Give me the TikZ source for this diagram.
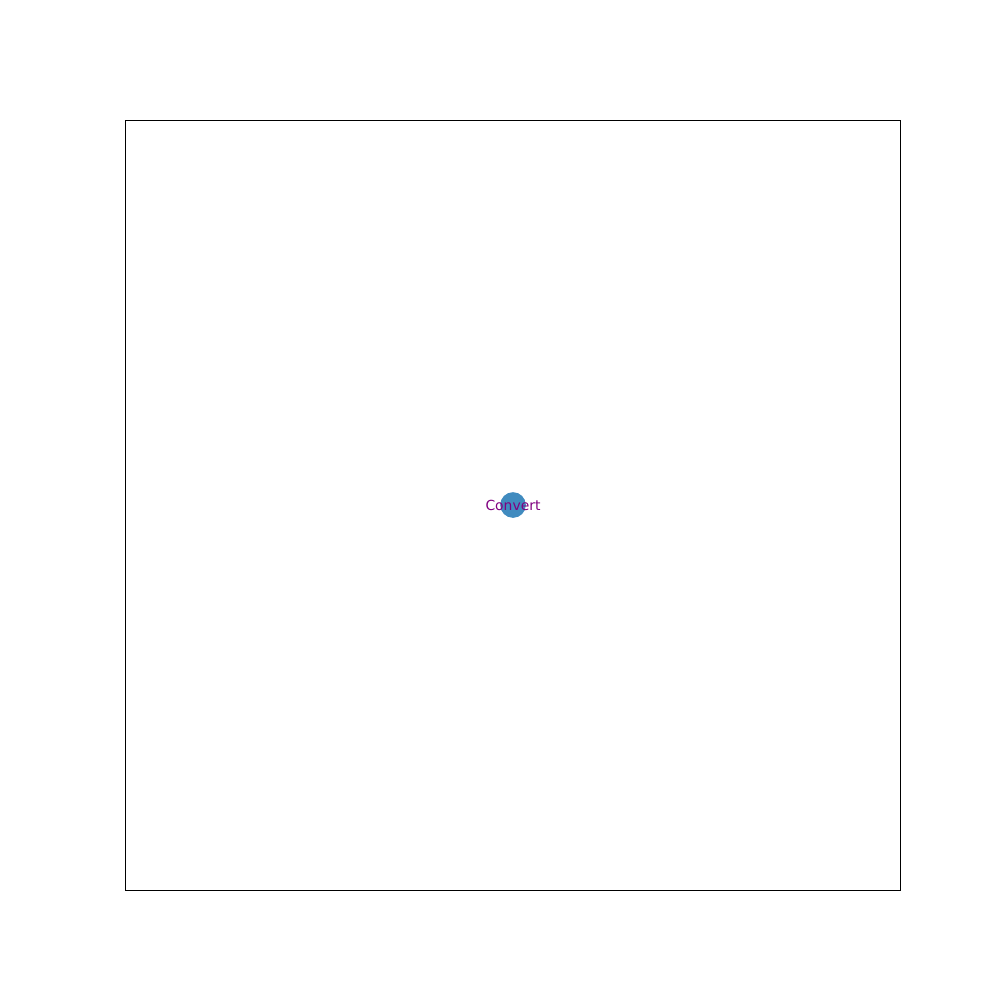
\documentclass[tikz,border=0pt]{standalone}
\usepackage{fontspec}
\setmainfont{DejaVu Sans}
\definecolor{nodeblue}{HTML}{1F77B4}
\definecolor{labelpurple}{HTML}{800080}
\begin{document}
\begin{tikzpicture}[x=0.72pt,y=-0.72pt,
  frame/.style={draw=black,line width=0.6pt},
  graphnode/.style={circle,fill=nodeblue,fill opacity=0.85,draw=none,minimum size=18.5pt,inner sep=0pt},
  graphlabel/.style={text=labelpurple,font=\fontsize{10}{12}\selectfont,inner sep=0pt}]
\useasboundingbox (0,0) rectangle (1000,1000);
\draw[frame] (125,120) rectangle (900,890);
\node[graphnode] (convert) at (513,505) {};
\node[graphlabel] (convertlabel) at (convert.center) {Convert};
\end{tikzpicture}
\end{document}
